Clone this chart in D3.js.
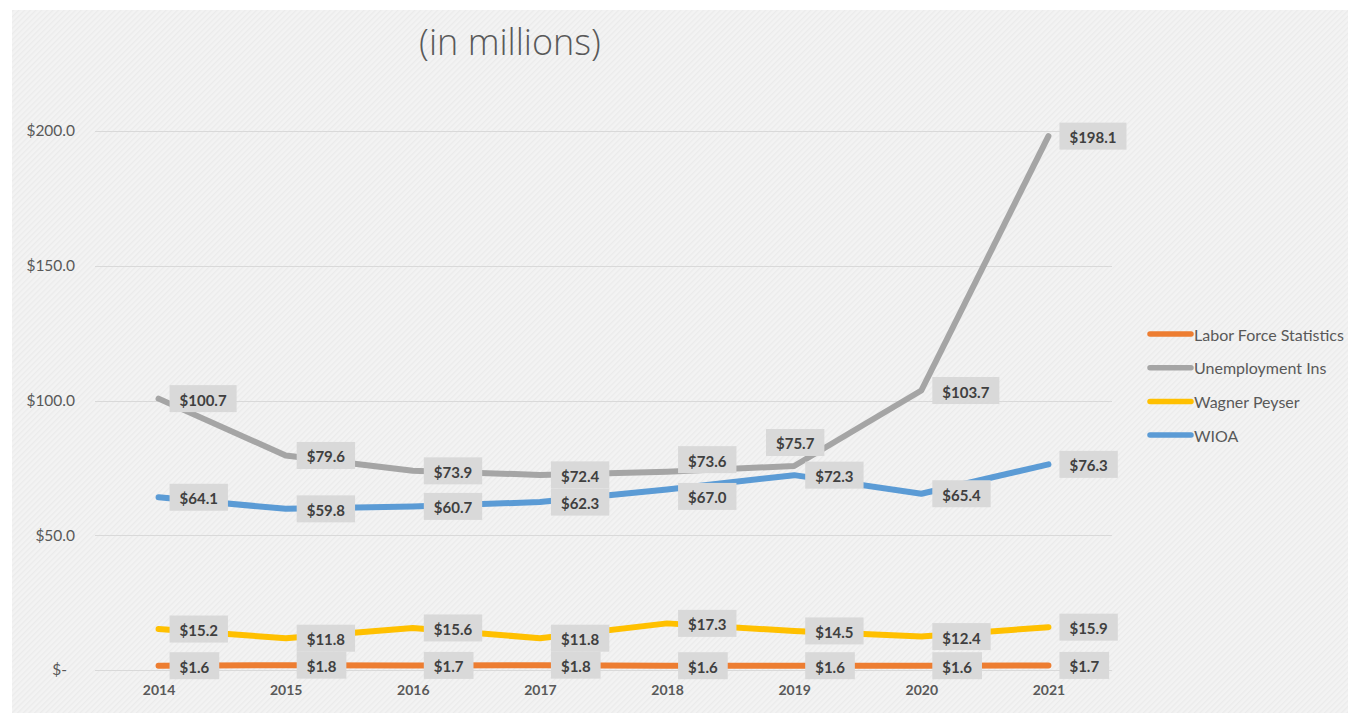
<!DOCTYPE html>
<html>
<head>
<meta charset="utf-8">
<script src="https://cdn.jsdelivr.net/npm/d3@7"></script>
<style>
  html, body { margin: 0; padding: 0; background: #ffffff; }
  svg { display: block; }
</style>
</head>
<body>
<svg id="chart" width="1348" height="713"></svg>
<script>
// Funding by program, 2014–2021 (in millions of dollars)
const years = ["2014", "2015", "2016", "2017", "2018", "2019", "2020", "2021"];
const laborForceStatistics = [1.6, 1.8, 1.7, 1.8, 1.6, 1.6, 1.6, 1.7];
const unemploymentIns = [100.7, 79.6, 73.9, 72.4, 73.6, 75.7, 103.7, 198.1];
const wagnerPeyser = [15.2, 11.8, 15.6, 11.8, 17.3, 14.5, 12.4, 15.9];
const wioa = [64.1, 59.8, 60.7, 62.3, 67.0, 72.3, 65.4, 76.3];
const yTicks = [0, 50, 100, 150, 200];
const seriesNames = ["Labor Force Statistics", "Unemployment Ins", "Wagner Peyser", "WIOA"];

const series = [
  { name: seriesNames[0], values: laborForceStatistics, color: "#ED7D31" },
  { name: seriesNames[1], values: unemploymentIns, color: "#A5A5A5" },
  { name: seriesNames[2], values: wagnerPeyser, color: "#FFC000" },
  { name: seriesNames[3], values: wioa, color: "#5B9BD5" }
];

// labels that sit above their point instead of to the right
const labelsAbove = new Set(["Unemployment Ins|2019"]);
// vertical nudges (px) that keep crowded labels apart
const labelNudge = new Map([
  ["Unemployment Ins|2018", -12],
  ["WIOA|2018", 7]
]);

const svg = d3.select("#chart");
const W = 1348, H = 713;
const font = "Lato, 'Open Sans', 'DejaVu Sans', sans-serif";

// hatched chart-area background
const defs = svg.append("defs");
const pat = defs.append("pattern")
  .attr("id", "hatch")
  .attr("patternUnits", "userSpaceOnUse")
  .attr("width", 4).attr("height", 4)
  .attr("patternTransform", "rotate(-45)");
pat.append("rect").attr("width", 4).attr("height", 4).attr("fill", "#f3f3f3");
pat.append("rect").attr("width", 4).attr("height", 1.3).attr("fill", "#ebebeb");

svg.append("rect")
  .attr("x", 12).attr("y", 10)
  .attr("width", W - 12).attr("height", H - 10)
  .attr("fill", "url(#hatch)");

// title
svg.append("text")
  .attr("x", 510).attr("y", 55)
  .attr("text-anchor", "middle")
  .attr("font-family", "'Open Sans', Lato, sans-serif")
  .attr("font-weight", 300)
  .attr("font-size", 36)
  .attr("fill", "#595959")
  .text("(in millions)");

// scales
const x = d3.scalePoint().domain(years).range([95, 1112]).padding(0.5);
const y = d3.scaleLinear().domain([0, 200]).range([670, 131]);

// horizontal gridlines
svg.append("g")
  .selectAll("line")
  .data(yTicks)
  .join("line")
  .attr("x1", 95).attr("x2", 1112)
  .attr("y1", d => Math.round(y(d)) + 0.5)
  .attr("y2", d => Math.round(y(d)) + 0.5)
  .attr("stroke", "#d9d9d9")
  .attr("stroke-width", 1);

// y axis labels
const yAxis = d3.axisLeft(y)
  .tickValues(yTicks)
  .tickSize(0)
  .tickPadding(0)
  .tickFormat(d => d === 0 ? "$-" : "$" + d3.format(".1f")(d));

const gy = svg.append("g")
  .attr("transform", "translate(75,0)")
  .call(yAxis);
gy.select(".domain").remove();
gy.selectAll("text")
  .attr("font-family", font)
  .attr("font-size", 15.5)
  .attr("fill", "#595959")
  .attr("dx", d => d === 0 ? -8 : 0);

// x axis labels
const xAxis = d3.axisBottom(x).tickSize(0).tickPadding(0);
const gx = svg.append("g")
  .attr("transform", "translate(0,685)")
  .call(xAxis);
gx.select(".domain").remove();
gx.selectAll("text")
  .attr("font-family", font)
  .attr("font-weight", 700)
  .attr("font-size", 14)
  .attr("fill", "#595959");

// lines
const line = d3.line()
  .x((d, i) => x(years[i]))
  .y(d => y(d));

svg.append("g")
  .selectAll("path")
  .data(series)
  .join("path")
  .attr("d", d => line(d.values))
  .attr("fill", "none")
  .attr("stroke", d => d.color)
  .attr("stroke-width", 6)
  .attr("stroke-linejoin", "round")
  .attr("stroke-linecap", "round");

// data labels
const labelData = [];
series.forEach(s => {
  s.values.forEach((v, i) => {
    labelData.push({ name: s.name, year: years[i], value: v });
  });
});

const lg = svg.append("g");
labelData.forEach(d => {
  const key = d.name + "|" + d.year;
  const px = x(d.year), py = y(d.value);
  const g = lg.append("g");
  const t = g.append("text")
    .attr("font-family", font)
    .attr("font-weight", 700)
    .attr("font-size", 15)
    .attr("fill", "#404040")
    .attr("dominant-baseline", "central")
    .text("$" + d3.format(".1f")(d.value));
  const tw = t.node().getComputedTextLength();
  const bw = tw + 20, bh = 27;
  let bx, by;
  if (labelsAbove.has(key)) {
    bx = px + 1 - bw / 2;
    by = py - 10 - bh;
  } else {
    bx = px + 11;
    by = py - bh / 2 + (labelNudge.get(key) || 0);
  }
  g.insert("rect", "text")
    .attr("x", bx).attr("y", by)
    .attr("width", bw).attr("height", bh)
    .attr("fill", "#d9d9d9");
  t.attr("x", bx + 10).attr("y", by + bh / 2 + 1);
});

// legend
const legend = svg.append("g");
series.forEach((s, i) => {
  const ly = 334 + i * 33.7;
  legend.append("line")
    .attr("x1", 1150).attr("x2", 1191)
    .attr("y1", ly).attr("y2", ly)
    .attr("stroke", s.color)
    .attr("stroke-width", 5.5)
    .attr("stroke-linecap", "round");
  legend.append("text")
    .attr("x", 1194).attr("y", ly)
    .attr("dominant-baseline", "central")
    .attr("font-family", font)
    .attr("font-size", 16)
    .attr("fill", "#595959")
    .text(s.name);
});
</script>
</body>
</html>
